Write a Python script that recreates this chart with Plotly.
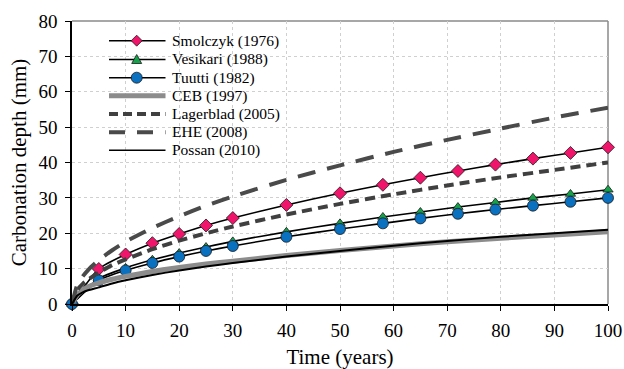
import plotly.graph_objects as go

# Marker series (time in years)
t_mark = [0, 5, 10, 15, 20, 25, 30, 40, 50, 58, 65, 72, 79, 86, 93, 100]
smolczyk = [0, 9.9, 14.0, 17.2, 19.8, 22.2, 24.3, 28.0, 31.3, 33.7, 35.7, 37.6, 39.4, 41.1, 42.7, 44.3]
vesikari = [0, 7.2, 10.2, 12.5, 14.4, 16.1, 17.7, 20.4, 22.8, 24.6, 26.0, 27.4, 28.7, 30.0, 31.1, 32.3]
tuutti = [0, 6.7, 9.5, 11.6, 13.4, 15.0, 16.4, 19.0, 21.2, 22.8, 24.2, 25.5, 26.7, 27.8, 28.9, 30.0]

# Curve series
t_curve = [0, 1, 2, 3, 5, 7.5, 10, 15, 20, 25, 30, 40, 50, 60, 70, 80, 90, 100]
ceb = [0, 2.6, 3.9, 4.9, 6.0, 7.0, 7.8, 9.2, 10.3, 11.3, 12.1, 13.7, 15.1, 16.4, 17.6, 18.6, 19.5, 20.4]
lagerblad = [0, 4.0, 5.7, 6.9, 8.9, 11.0, 12.6, 15.5, 17.9, 20.0, 21.9, 25.3, 28.3, 31.0, 33.5, 35.8, 37.9, 40.0]
ehe = [0, 5.5, 7.8, 9.6, 12.4, 15.2, 17.6, 21.5, 24.8, 27.8, 30.4, 35.1, 39.2, 43.0, 46.4, 49.6, 52.7, 55.5]
possan = [0, 2.4, 3.3, 3.9, 4.7, 5.8, 6.7, 8.2, 9.5, 10.6, 11.6, 13.4, 15.0, 16.5, 17.8, 19.0, 20.0, 21.0]

series_names = ["Smolczyk (1976)", "Vesikari (1988)", "Tuutti (1982)", "CEB (1997)",
                "Lagerblad (2005)", "EHE (2008)", "Possan (2010)"]

x_ticks = [0, 10, 20, 30, 40, 50, 60, 70, 80, 90, 100]
y_ticks = [0, 10, 20, 30, 40, 50, 60, 70, 80]

FONT = "Liberation Serif"
PINK, GREEN, BLUE = "#F0146A", "#16A24A", "#0A70C0"
GRAY, DARK1, DARK2 = "#8C8C8C", "#404040", "#4A4A4A"
DASH_L, DASH_E = "10px,6px", "18px,12px"

fig = go.Figure()

def marker_trace(name, y, symbol, color, size):
    return go.Scatter(
        x=t_mark, y=y, name=name, mode="lines+markers",
        line=dict(color="black", width=1.6, shape="spline", smoothing=0.6),
        marker=dict(symbol=symbol, color=color, size=size,
                    line=dict(color="#1a1a1a", width=0.8)),
        cliponaxis=False,
    )

fig.add_trace(marker_trace(series_names[0], smolczyk, "diamond", PINK, 10))
fig.add_trace(marker_trace(series_names[1], vesikari, "triangle-up", GREEN, 9))
fig.add_trace(marker_trace(series_names[2], tuutti, "circle", BLUE, 11))

fig.add_trace(go.Scatter(x=t_curve, y=ceb, name=series_names[3], mode="lines",
                         line=dict(color=GRAY, width=5, shape="spline", smoothing=0.6),
                         cliponaxis=False))
fig.add_trace(go.Scatter(x=t_curve, y=lagerblad, name=series_names[4], mode="lines",
                         line=dict(color=DARK1, width=4, shape="spline", smoothing=0.6,
                                   dash=DASH_L),
                         cliponaxis=False))
fig.add_trace(go.Scatter(x=t_curve, y=ehe, name=series_names[5], mode="lines",
                         line=dict(color=DARK2, width=4, shape="spline", smoothing=0.6,
                                   dash=DASH_E),
                         cliponaxis=False))
fig.add_trace(go.Scatter(x=t_curve, y=possan, name=series_names[6], mode="lines",
                         line=dict(color="black", width=2, shape="spline", smoothing=0.6),
                         cliponaxis=False))

# top and right gray border
fig.add_shape(type="line", xref="paper", yref="paper", x0=0, x1=1, y0=1, y1=1,
              line=dict(color="#8A8A8A", width=1.5), layer="below")
fig.add_shape(type="line", xref="paper", yref="paper", x0=1, x1=1, y0=0, y1=1,
              line=dict(color="#8A8A8A", width=1.5), layer="below")

# ---- manual legend (pixel layout converted to paper coords) ----
L, T, W, H = 72, 21, 536, 283
def px(xp):
    return (xp - L) / W
def py(yp):
    return (T + H - yp) / H

rows = [40.7, 59.5, 77.7, 95.7, 114, 132.3, 150.3]
line_styles = [
    dict(color="black", width=1.6),
    dict(color="black", width=1.6),
    dict(color="black", width=1.6),
    dict(color=GRAY, width=5),
    dict(color=DARK1, width=4, dash="9px,5px"),
    dict(color=DARK2, width=4, dash="16px,12px"),
    dict(color="black", width=1.6),
]
x_a, x_b, x_m, x_t = 109, 165.5, 136.7, 170
for name, ry, ls in zip(series_names, rows, line_styles):
    fig.add_shape(type="line", xref="paper", yref="paper",
                  x0=px(x_a), x1=px(x_b), y0=py(ry), y1=py(ry), line=ls)
    fig.add_annotation(x=px(x_t), y=py(ry), xref="paper", yref="paper",
                       text=name, showarrow=False, xanchor="left", yanchor="middle",
                       font=dict(family=FONT, size=15.5, color="black"))

# legend marker glyphs (pixel-sized shapes anchored in paper coords)
fig.add_shape(type="path", xref="paper", yref="paper", xsizemode="pixel", ysizemode="pixel",
              xanchor=px(x_m), yanchor=py(rows[0]),
              path="M -5.5 0 L 0 5.5 L 5.5 0 L 0 -5.5 Z",
              fillcolor=PINK, line=dict(color="#1a1a1a", width=0.8))
fig.add_shape(type="path", xref="paper", yref="paper", xsizemode="pixel", ysizemode="pixel",
              xanchor=px(x_m), yanchor=py(rows[1]),
              path="M -5 -4 L 5 -4 L 0 5 Z",
              fillcolor=GREEN, line=dict(color="#1a1a1a", width=0.8))
fig.add_shape(type="circle", xref="paper", yref="paper", xsizemode="pixel", ysizemode="pixel",
              xanchor=px(x_m), yanchor=py(rows[2]), x0=-5.5, x1=5.5, y0=-5.5, y1=5.5,
              fillcolor=BLUE, line=dict(color="#1a1a1a", width=0.8))

fig.update_layout(
    width=624, height=369,
    margin=dict(l=L, r=624 - L - W, t=T, b=369 - T - H),
    paper_bgcolor="white", plot_bgcolor="white",
    font=dict(family=FONT, size=19, color="black"),
    showlegend=False,
    xaxis=dict(range=[0, 100], tickvals=x_ticks, ticks="outside", ticklen=5,
               tickcolor="black", showline=True, linecolor="black", linewidth=1.5,
               showgrid=True, gridcolor="#D0D0D0", griddash="dot", gridwidth=1,
               zeroline=False, tickfont=dict(size=19), ticklabelstandoff=3,
               automargin=False,
               title=dict(text="Time (years)", font=dict(size=21), standoff=11)),
    yaxis=dict(range=[0, 80], tickvals=y_ticks, ticks="outside", ticklen=5,
               tickcolor="black", showline=True, linecolor="black", linewidth=1.5,
               showgrid=True, gridcolor="#D0D0D0", griddash="dot", gridwidth=1,
               zeroline=False, tickfont=dict(size=19), ticklabelstandoff=4,
               automargin=False,
               title=dict(text="Carbonation depth (mm)", font=dict(size=21), standoff=6)),
)

fig.write_html("out.html")
